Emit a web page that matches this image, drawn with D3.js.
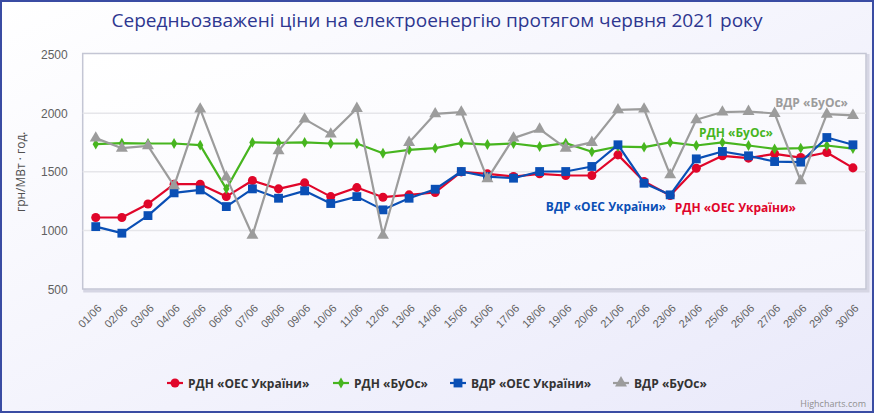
<!DOCTYPE html>
<html><head><meta charset="utf-8">
<script src="https://cdn.jsdelivr.net/npm/d3@7"></script>
<style>
html,body{margin:0;padding:0;background:#fff;}
svg{display:block;font-family:"Open Sans","DejaVu Sans",sans-serif;}
</style></head>
<body><svg id="c" width="874" height="413"></svg>
<script>
const categories = ["01/06","02/06","03/06","04/06","05/06","06/06","07/06","08/06","09/06","10/06",
  "11/06","12/06","13/06","14/06","15/06","16/06","17/06","18/06","19/06","20/06",
  "21/06","22/06","23/06","24/06","25/06","26/06","27/06","28/06","29/06","30/06"];
const rdnOes = [1110,1110,1225,1394,1394,1288,1425,1354,1405,1288,
  1365,1283,1303,1323,1499,1482,1459,1482,1468,1468,
  1644,1417,1297,1530,1636,1616,1653,1621,1664,1533];
const rdnBuos = [1735,1744,1741,1741,1727,1354,1750,1747,1750,1741,
  1741,1658,1687,1701,1744,1732,1741,1715,1744,1670,
  1715,1710,1750,1724,1750,1724,1695,1701,1724,1698];
const vdrOes = [1032,976,1126,1320,1345,1203,1354,1274,1337,1229,
  1288,1175,1274,1351,1502,1459,1445,1502,1502,1545,
  1730,1402,1303,1610,1673,1636,1587,1582,1792,1730];
const vdrBuos = [1787,1701,1721,1380,2034,1454,958,1678,1949,1821,
  2040,958,1750,1994,2009,1439,1787,1863,1701,1750,
  2028,2034,1473,1943,2009,2014,1997,1422,1991,1980];
const yTicks = [500,1000,1500,2000,2500];
const titleText = "Середньозважені ціни на електроенергію протягом червня 2021 року";
const yTitle = "грн/МВт · год.";
const seriesNames = ["РДН «ОЕС України»","РДН «БуОс»","ВДР «ОЕС України»","ВДР «БуОс»"];

const series = [
  {name: seriesNames[0], values: rdnOes, color: "#e0062a", sym: d3.symbolCircle, size: 64},
  {name: seriesNames[1], values: rdnBuos, color: "#47b51f", sym: d3.symbolDiamond, size: 34},
  {name: seriesNames[2], values: vdrOes, color: "#0a4fb5", sym: d3.symbolSquare, size: 78},
  {name: seriesNames[3], values: vdrBuos, color: "#9c9c9c", sym: d3.symbolTriangle, size: 62}
];

const W = 874, H = 413;
const svg = d3.select("#c");
const defs = svg.append("defs");
const bg = defs.append("linearGradient").attr("id","bg").attr("x1",0).attr("y1",0).attr("x2",1).attr("y2",1);
bg.append("stop").attr("offset","0%").attr("stop-color","#ffffff");
bg.append("stop").attr("offset","100%").attr("stop-color","#e9e9fa");
const pg = defs.append("linearGradient").attr("id","pg").attr("x1",0).attr("y1",0).attr("x2",1).attr("y2",1);
pg.append("stop").attr("offset","0%").attr("stop-color","#ffffff");
pg.append("stop").attr("offset","100%").attr("stop-color","#f6f6fd");

svg.append("rect").attr("width",W).attr("height",H).attr("fill","url(#bg)");
svg.append("rect").attr("x",1).attr("y",1).attr("width",W-2).attr("height",H-2)
  .attr("fill","none").attr("stroke","#3a4ca3").attr("stroke-width",2);

const L = 82.7, R = 866, T = 54.5, B = 289;
const x = d3.scalePoint().domain(categories).range([L, R]).padding(0.5);
const y = d3.scaleLinear().domain([500,2500]).range([B, T]);

// plot area with shadow
svg.append("rect").attr("x",L+2).attr("y",T-1+2).attr("width",R-L).attr("height",B-T+1)
  .attr("fill","none").attr("stroke","#d6d6e4").attr("stroke-width",3);
svg.append("rect").attr("x",L).attr("y",T-1).attr("width",R-L).attr("height",B-T+1)
  .attr("fill","url(#pg)").attr("stroke","#c4c6d4").attr("stroke-width",1.5);

// grid
svg.append("g").selectAll("line").data(yTicks.filter(t=>t>500 && t<2500)).join("line")
  .attr("x1",L).attr("x2",R).attr("y1",d=>y(d)).attr("y2",d=>y(d))
  .attr("stroke","#e6e6ea").attr("stroke-width",1.5);

// y axis
const yAxis = d3.axisLeft(y).tickValues(yTicks).tickSize(0).tickPadding(15).tickFormat(d3.format("d"));
const gy = svg.append("g").attr("transform",`translate(${L},0)`).call(yAxis);
gy.select(".domain").remove();
gy.selectAll("text").attr("fill","#606060").style("font-size","12px").attr("dy","0.35em");

svg.append("text").attr("transform",`translate(25,${(T+B)/2}) rotate(-90)`)
  .attr("text-anchor","middle").attr("fill","#505050").style("font-size","12px").text(yTitle);

// x axis
const xAxis = d3.axisBottom(x).tickSize(0).tickPadding(0);
const gx = svg.append("g").attr("transform",`translate(0,${B})`).call(xAxis);
gx.select(".domain").remove();
gx.selectAll("text").attr("fill","#606060").style("font-size","11px")
  .attr("text-anchor","end").attr("dy",null).attr("y",null)
  .attr("transform","translate(6,20) rotate(-45)");

// lines
const line = d3.line().x((d,i)=>x(categories[i])).y(d=>y(d));
series.forEach(s=>{
  const g = svg.append("g");
  g.append("path").datum(s.values).attr("d",line).attr("fill","none")
    .attr("stroke",s.color).attr("stroke-width",2.2).attr("stroke-linejoin","round");
  g.selectAll("path.m").data(s.values).join("path").attr("class","m")
    .attr("d",d3.symbol().type(s.sym).size(s.size))
    .attr("transform",(d,i)=>`translate(${x(categories[i])},${y(d)})`)
    .attr("fill",s.color);
});

// in-plot labels
const labels = [
  {t: seriesNames[3], x: 848, y: 107, c: "#9c9c9c"},
  {t: seriesNames[1], x: 773, y: 137, c: "#47b51f"},
  {t: seriesNames[2], x: 666, y: 211, c: "#0a4fb5"},
  {t: seriesNames[0], x: 796, y: 212, c: "#e0062a"}
];
svg.append("g").selectAll("text").data(labels).join("text")
  .attr("x",d=>d.x).attr("y",d=>d.y).attr("text-anchor","end")
  .attr("fill",d=>d.c).style("font-size","12px").style("font-weight","bold").text(d=>d.t);

// title
svg.append("text").attr("x",437).attr("y",27).attr("text-anchor","middle")
  .attr("fill","#2e3790").style("font-size","19px").attr("textLength",651)
  .attr("lengthAdjust","spacingAndGlyphs").text(titleText);

// legend
const legX = [167, 333, 450, 613];
const lg = svg.append("g");
series.forEach((s,i)=>{
  const g = lg.append("g").attr("transform",`translate(${legX[i]},383)`);
  g.append("line").attr("x1",0).attr("x2",16).attr("stroke",s.color).attr("stroke-width",2.2);
  g.append("path").attr("d",d3.symbol().type(s.sym).size(s.size)).attr("transform","translate(8,0)").attr("fill",s.color);
  g.append("text").attr("x",21).attr("y",4.5).attr("fill","#333").style("font-size","12px")
    .style("font-weight","bold").text(s.name);
});

// credit
svg.append("text").attr("x",866).attr("y",407).attr("text-anchor","end")
  .attr("fill","#909090").style("font-size","9px").text("Highcharts.com");
</script></body></html>
